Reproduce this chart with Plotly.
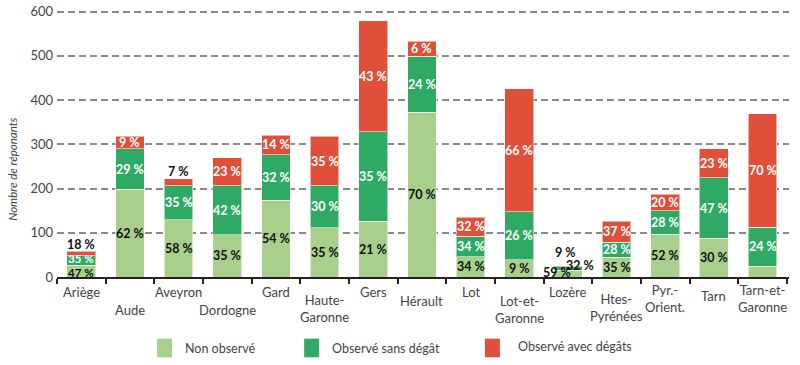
import plotly.graph_objects as go

categories = ["Ariège", "Aude", "Aveyron", "Dordogne", "Gard", "Haute-Garonne", "Gers",
              "Hérault", "Lot", "Lot-et-Garonne", "Lozère", "Htes-Pyrénées", "Pyr.-Orient.",
              "Tarn", "Tarn-et-Garonne"]
tick_labels = ["Ariège", "Aude", "Aveyron", "Dordogne", "Gard", "Haute-<br>Garonne", "Gers",
               "Hérault", "Lot", "Lot-et-<br>Garonne", "Lozère", "Htes-<br>Pyrénées", "Pyr.-<br>Orient.",
               "Tarn", "Tarn-et-<br>Garonne"]

non_observe = [27, 198, 129, 96, 174, 111, 126, 373, 46, 39, 15, 45, 97, 88, 24]
sans_degat = [21, 92, 77, 110, 103, 95, 202, 126, 46, 109, 8, 34, 53, 136, 89]
avec_degats = [10, 28, 16, 64, 44, 112, 252, 34, 43, 278, 3, 47, 37, 66, 256]

pct_non = ["47 %", "62 %", "58 %", "35 %", "54 %", "35 %", "21 %", "70 %", "34 %", "9 %",
           "59 %", "35 %", "52 %", "30 %", ""]
pct_sans = ["35 %", "29 %", "35 %", "42 %", "32 %", "30 %", "35 %", "24 %", "34 %", "26 %",
            "32 %", "28 %", "28 %", "47 %", "24 %"]
pct_avec = ["18 %", "9 %", "7 %", "23 %", "14 %", "35 %", "43 %", "6 %", "32 %", "66 %",
            "9 %", "37 %", "20 %", "23 %", "70 %"]

series_names = ["Non observé", "Observé sans dégât", "Observé avec dégâts"]
y_ticks = [0, 100, 200, 300, 400, 500, 600]

# styling
COLORS = ["#a8d08c", "#2eaa64", "#e04f3a"]
LABEL_COLORS = ["#111111", "#ffffff", "#ffffff"]
FONT = "Lato"
TEXT_GRAY = "#444444"

# pixel geometry of plot area
W, H = 800, 365
Y_MAX = 606
L, R, B = 56.5, 10.5, 88
PX_PER_UNIT = 271.0 / 600.0
T = (H - B) - Y_MAX * PX_PER_UNIT
PW, PH = W - L - R, H - T - B

def px_x(p):
    return (p - L) / PW

def px_y(p):
    return (H - B - p) / PH

fig = go.Figure()
for name, vals, col in zip(series_names, [non_observe, sans_degat, avec_degats], COLORS):
    fig.add_trace(go.Bar(
        x=categories, y=vals, name=name, marker_color=col,
        marker_line=dict(color="rgba(255,255,255,0.55)", width=1),
        showlegend=False, hoverinfo="skip",
    ))

annotations = []

# special placements (pixel shifts) for small segments
outside_top = {"Ariège", "Aveyron"}
special = {
    ("Lozère", 2): ("top", -2, 13),
    ("Lozère", 1): ("top", 12, 0),
    ("Lozère", 0): ("zero", -11, 5),
}
nudges = {("Ariège", 0): -1.5, ("Ariège", 1): 1.5}

for i, cat in enumerate(categories):
    segs = [non_observe[i], sans_degat[i], avec_degats[i]]
    texts = [pct_non[i], pct_sans[i], pct_avec[i]]
    total = sum(segs)
    base = 0
    for s in range(3):
        v = segs[s]
        txt = texts[s]
        mid = base + v / 2
        base += v
        if not txt:
            continue
        color = LABEL_COLORS[s]
        y, xs, ys = mid, 0, 0
        size = 12.5
        if (cat, s) in special:
            anc, xs, ys = special[(cat, s)]
            y = total if anc == "top" else 0
            color = "#111111"
        elif s == 2 and cat in outside_top:
            y, ys = total, 7
            color = "#111111"
        if (cat, s) in nudges:
            ys += nudges[(cat, s)]
            size = 11.5
        annotations.append(dict(
            x=cat, y=y, xref="x", yref="y", text="<b>" + txt + "</b>", showarrow=False,
            xshift=xs, yshift=ys, font=dict(family=FONT, size=size, color=color),
            xanchor="center", yanchor="middle", borderpad=0,
        ))

# staggered category labels (pixel centres below the axis)
label_centres = [292, 311, 292, 311, 292, 309.5, 292, 302, 292, 310, 292, 308.5, 299, 296, 299]
for cat, lab, cy in zip(categories, tick_labels, label_centres):
    annotations.append(dict(
        x=cat, y=px_y(cy), xref="x", yref="paper", text=lab, showarrow=False,
        xanchor="center", yanchor="middle", align="center",
        font=dict(family=FONT, size=13, color=TEXT_GRAY),
    ))

# y-axis title
annotations.append(dict(
    x=px_x(12), y=px_y(167), xref="paper", yref="paper", text="<i>Nombre de réponants</i>",
    textangle=-90, showarrow=False, xanchor="center", yanchor="middle",
    font=dict(family=FONT, size=11.5, color=TEXT_GRAY),
))

# custom legend
shapes = []
legend_sq = [156.7, 304, 485]
legend_txt = [183, 330, 516]
legend_cy = [350, 350, 348]
for name, col, sx, tx, cy in zip(series_names, COLORS, legend_sq, legend_txt, legend_cy):
    shapes.append(dict(type="rect", xref="paper", yref="paper",
                       x0=px_x(sx), x1=px_x(sx + 15), y0=px_y(340), y1=px_y(359),
                       fillcolor=col, line=dict(width=0)))
    annotations.append(dict(
        x=px_x(tx), y=px_y(cy), xref="paper", yref="paper", text=name, showarrow=False,
        xanchor="left", yanchor="middle", font=dict(family=FONT, size=12.5, color=TEXT_GRAY),
    ))

fig.update_layout(
    barmode="stack", bargap=0.41,
    width=W, height=H,
    margin=dict(l=L, r=R, t=T, b=B, pad=0),
    plot_bgcolor="white", paper_bgcolor="white",
    font=dict(family=FONT, size=13, color=TEXT_GRAY),
    annotations=annotations, shapes=shapes,
    xaxis=dict(
        showticklabels=False, ticks="outside", tickson="boundaries", ticklen=5,
        tickwidth=2, tickcolor="#222222", showline=True, linecolor="#222222", linewidth=2,
        showgrid=False, fixedrange=True,
    ),
    yaxis=dict(
        range=[0, Y_MAX], tickvals=y_ticks, showgrid=True, gridcolor="#8a8a8a", gridwidth=1.5,
        griddash="7px,4px", zeroline=False, showline=False, ticks="", ticklabelstandoff=3,
        ticklabeloverflow="allow",
        tickfont=dict(family=FONT, size=13, color=TEXT_GRAY), fixedrange=True,
    ),
)

fig.write_html("out.html", config={"displayModeBar": False},
               post_script="document.body.style.margin='0';")
